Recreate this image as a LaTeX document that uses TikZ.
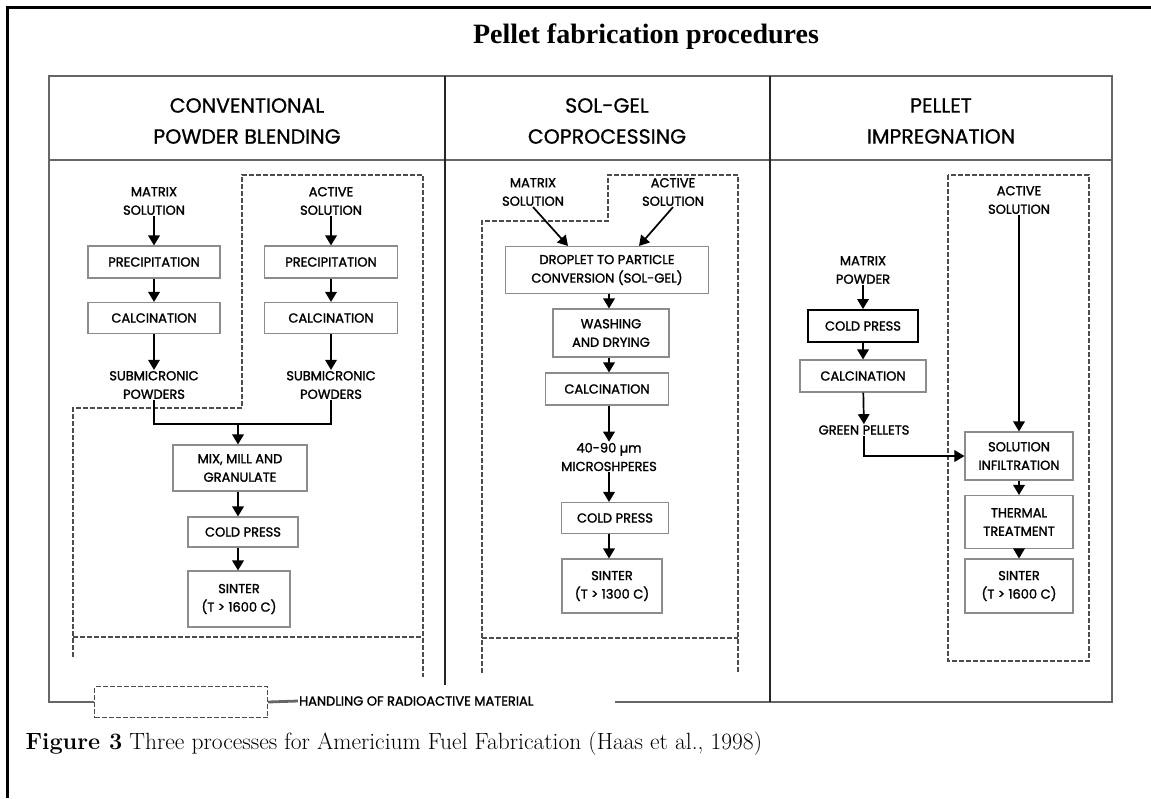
\documentclass[tikz,border=0pt]{standalone}
\usepackage{fontspec}
\newfontfamily\diag{Poppins}[FakeBold=1.6]
\newfontfamily\diagkopf{Poppins}[FakeBold=0.8]
\newfontfamily\titel{Liberation Serif}
\usetikzlibrary{arrows.meta}

\begin{document}
\begin{tikzpicture}[x=1pt,y=-1pt,
  box/.style={draw=black!45,line width=1.1pt,inner sep=0pt,align=center,
    font=\diag\fontsize{13}{18.5}\selectfont},
  txt/.style={inner sep=1pt,align=center,font=\diag\fontsize{13}{18.5}\selectfont},
  kopf/.style={align=center,font=\diagkopf\fontsize{20.5}{31}\selectfont},
  pfeil/.style={line width=1.7pt,-{Triangle[length=10pt,width=11.5pt]}},
  zone/.style={draw=black!70,line width=1.3pt,dash pattern=on 5pt off 2pt},
  rahmen/.style={draw=black!60,line width=2.8pt},
  trenn/.style={draw=black!85,line width=1.5pt}]
  \useasboundingbox (0,0) rectangle (1151,798);

  % Rahmen
  \draw[line width=3pt] (7,798) -- (7,7) -- (1151,7);
  \node[font=\titel\bfseries\fontsize{28}{30}\selectfont] (titel) at (646,37)
    {Pellet fabrication procedures};

  \node[zone,minimum width=173,minimum height=31] (legende) at (181,702) {};
  \node[txt,anchor=west] (hinweis) at (298,701) {HANDLING OF RADIOACTIVE MATERIAL};

  \draw[rahmen] (legende.west) -| (49,76) -| (1112,702) -- (615,702);
  \draw[rahmen] (legende.east) -- (hinweis.west);
  \draw[rahmen,line width=2.2pt] (49,160) -- (1112,160);
  \draw[trenn] (445,76) -- (445,685);
  \draw[trenn] (770,76) -- (770,702);

  \node[kopf] (k1) at (247,121) {CONVENTIONAL\\POWDER BLENDING};
  \node[kopf] (k2) at (607,121) {SOL-GEL\\COPROCESSING};
  \node[kopf] (k3) at (941,121) {PELLET\\IMPREGNATION};

  % Spalte 1
  \draw[zone] (73,657) -- (73,408) -- (242,408) -- (242,175) -- (423,175) -- (423,677);
  \draw[zone] (73,637) -- (423,637);

  \node[txt] (ml) at (154,201) {MATRIX\\SOLUTION};
  \node[box,minimum width=132,minimum height=32] (mp) at (154,262) {PRECIPITATION};
  \node[box,minimum width=132,minimum height=31] (mc) at (154,318) {CALCINATION};
  \node[txt] (ms) at (154,385) {SUBMICRONIC\\POWDERS};

  \node[txt] (al) at (331,201) {ACTIVE\\SOLUTION};
  \node[box,minimum width=133,minimum height=32] (ap) at (331,262) {PRECIPITATION};
  \node[box,minimum width=133,minimum height=31] (ac) at (331,318) {CALCINATION};
  \node[txt] (as) at (331,385) {SUBMICRONIC\\POWDERS};

  \node[box,minimum width=134,minimum height=46] (mix) at (240,468) {MIX, MILL AND\\GRANULATE};
  \node[box,minimum width=110,minimum height=30] (cp1) at (243,532) {COLD PRESS};
  \node[box,minimum width=102,minimum height=56] (si1) at (239,599) {SINTER\\(T > 1600 C)};

  \draw[pfeil] (ml) -- (mp);
  \draw[pfeil] (mp) -- (mc);
  \draw[pfeil] (mc) -- (ms);
  \draw[pfeil] (al) -- (ap);
  \draw[pfeil] (ap) -- (ac);
  \draw[pfeil] (ac) -- (as);
  \coordinate (j1) at (238,424);
  \draw[line width=1.7pt] (ms.south) |- (j1) -| (as.south);
  \draw[pfeil] (j1) -- (j1 |- mix.north);
  \draw[pfeil] (mix.south -| j1) -- (cp1.north -| j1);
  \draw[pfeil] (cp1.south -| j1) -- (si1.north -| j1);

  % Spalte 2
  \draw[zone] (482,673) -- (482,221) -- (608,221) -- (608,175) -- (738,175) -- (738,673);
  \draw[zone] (482,638) -- (738,638);

  \node[txt] (ml2) at (533,192) {MATRIX\\SOLUTION};
  \node[txt] (al2) at (673,192) {ACTIVE\\SOLUTION};
  \node[box,minimum width=203,minimum height=47] (drop) at (607,270)
    {DROPLET TO PARTICLE\\CONVERSION (SOL-GEL)};
  \node[box,minimum width=116,minimum height=48] (wash) at (611,333) {WASHING\\AND DRYING};
  \node[box,minimum width=123,minimum height=32] (cal2) at (607,389) {CALCINATION};
  \node[txt] (mic) at (609,457) {40-90 µm\\MICROSHPERES};
  \node[box,minimum width=107,minimum height=31] (cp2) at (615,518) {COLD PRESS};
  \node[box,minimum width=100,minimum height=54] (si2) at (612,586) {SINTER\\(T > 1300 C)};

  \draw[pfeil] (ml2.south) -- ([xshift=-39pt]drop.north);
  \draw[pfeil] (al2.south) -- ([xshift=32pt]drop.north);
  \draw[pfeil] (drop.south -| mic) -- (wash.north -| mic);
  \draw[pfeil] (wash.south -| mic) -- (cal2.north -| mic);
  \draw[pfeil] (cal2.south -| mic) -- (mic);
  \draw[pfeil] (mic) -- (cp2.north -| mic);
  \draw[pfeil] (cp2.south -| mic) -- (si2.north -| mic);

  % Spalte 3
  \draw[zone] (948,175) rectangle (1089,661);

  \node[txt] (al3) at (1019,200) {ACTIVE\\SOLUTION};
  \node[txt] (mpw) at (863,270) {MATRIX\\POWDER};
  \node[box,draw=black,line width=1.8pt,minimum width=110,minimum height=32] (cp3) at (863,326) {COLD PRESS};
  \node[box,minimum width=126,minimum height=32] (cal3) at (863,376) {CALCINATION};
  \node[txt] (gp) at (864,430) {GREEN PELLETS};
  \node[box,minimum width=108,minimum height=48] (inf) at (1019,456) {SOLUTION\\INFILTRATION};
  \node[box,minimum width=108,minimum height=53] (thm) at (1019,522) {THERMAL\\TREATMENT};
  \node[box,minimum width=108,minimum height=54] (si3) at (1019,586) {SINTER\\(T > 1600 C)};

  \draw[pfeil] (al3) -- (inf);
  \draw[pfeil] (mpw) -- (cp3);
  \draw[pfeil] (cp3) -- (cal3);
  \draw[pfeil] (cal3) -- (gp);
  \draw[pfeil] (gp.south) |- (inf.west);
  \draw[pfeil] (inf) -- (thm);
  \draw[pfeil] (thm) -- (si3);

  \node[anchor=west,font=\fontsize{23.5}{26}\selectfont] (caption) at (22,744)
    {\textbf{Figure 3} Three processes for Americium Fuel Fabrication (Haas et al., 1998)};
\end{tikzpicture}
\end{document}
